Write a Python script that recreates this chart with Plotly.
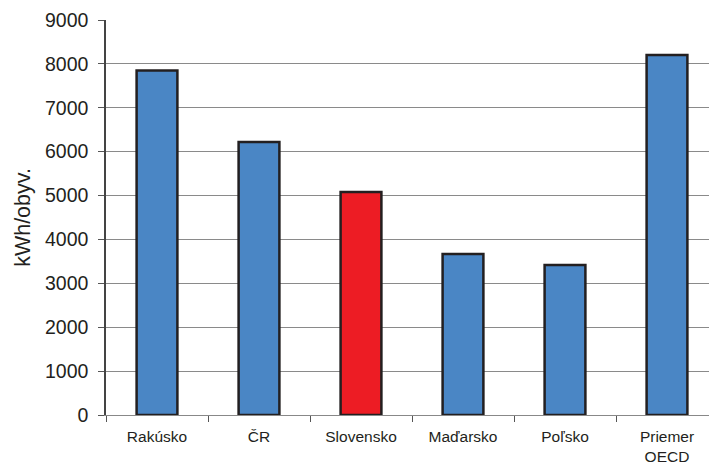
import plotly.graph_objects as go

categories = ["Rakúsko", "ČR", "Slovensko", "Maďarsko", "Poľsko", "Priemer<br>OECD"]
values = [7850, 6220, 5080, 3670, 3420, 8200]
colors = ["#4a86c5", "#4a86c5", "#ed1c24", "#4a86c5", "#4a86c5", "#4a86c5"]
y_ticks = [0, 1000, 2000, 3000, 4000, 5000, 6000, 7000, 8000, 9000]

fig = go.Figure(go.Bar(
    x=categories, y=values,
    marker=dict(color=colors, line=dict(color="#231f20", width=2.5)),
))

fig.update_layout(
    width=710, height=456,
    margin=dict(l=98, r=0, t=12, b=49),
    plot_bgcolor="white", paper_bgcolor="white",
    bargap=0.6,
    showlegend=False,
    font=dict(family="Liberation Sans, Arial, sans-serif", color="#231f20"),
)
fig.update_xaxes(
    tickson="boundaries", ticks="outside", ticklen=6, tickcolor="#555",
    showline=True, linecolor="#888", linewidth=1,
    tickfont=dict(size=15.5), showgrid=False, ticklabelstandoff=7,
)
fig.update_yaxes(
    range=[0, 9000], tickvals=y_ticks, ticks="outside", ticklen=6, tickcolor="#555",
    showline=True, linecolor="#444", linewidth=1.5,
    showgrid=True, gridcolor="#8a8a8a", gridwidth=1,
    zeroline=False,
    tickfont=dict(size=19.5), ticklabelstandoff=6,
    title=dict(text="kWh/obyv.", font=dict(size=21.5), standoff=8),
)

fig.write_html("out.html")
